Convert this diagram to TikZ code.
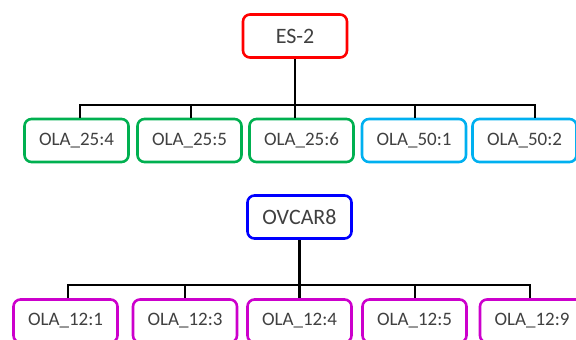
\documentclass[tikz,border=0pt]{standalone}
\usepackage{fontspec}
\setmainfont{Carlito}
\definecolor{cred}{RGB}{255,0,0}
\definecolor{cgreen}{RGB}{0,176,80}
\definecolor{ccyan}{RGB}{0,176,240}
\definecolor{cblue}{RGB}{0,0,255}
\definecolor{cmag}{RGB}{204,0,204}
\definecolor{txt}{RGB}{64,64,64}
\begin{document}
\begin{tikzpicture}[x=1pt,y=-1pt,
  box/.style={draw, line width=2.6pt, rounded corners=7pt, minimum width=104pt,
    minimum height=43pt, fill=white, text=txt, inner sep=0pt,
    font=\fontsize{19}{21}\selectfont},
  rootbox/.style={box, font=\fontsize{22}{24}\selectfont},
  link/.style={line width=2.8pt, black, line join=miter}]
\useasboundingbox (0,0) rectangle (576,340);
\clip (0,0) rectangle (576,340);
% top tree
\node[rootbox, draw=cred] (es2) at (295,36) {ES-2};
\node[box, draw=cgreen] (a1) at (76.5,140.5) {OLA\_25:4};
\node[box, draw=cgreen] (a2) at (189.5,140.5) {OLA\_25:5};
\node[box, draw=cgreen] (a3) at (301.5,140.5) {OLA\_25:6};
\node[box, draw=ccyan] (a4) at (414,140.5) {OLA\_50:1};
\node[box, draw=ccyan] (a5) at (524.5,140.5) {OLA\_50:2};
\coordinate (t1) at (80,105);
\coordinate (t2) at (191,105);
\coordinate (t4) at (415,105);
\coordinate (t5) at (535,105);
\draw[link] (t1 |- a1.north) -- (t1) -- (t5) -- (t5 |- a5.north);
\draw[link] (t2) -- (t2 |- a2.north);
\draw[link] (t4) -- (t4 |- a4.north);
\draw[link] (es2.south) -- (es2.south |- a3.north);
% bottom tree
\node[rootbox, draw=cblue] (ov) at (299.5,217) {OVCAR8};
\node[box, draw=cmag] (b1) at (65.5,321) {OLA\_12:1};
\node[box, draw=cmag] (b2) at (185,321) {OLA\_12:3};
\node[box, draw=cmag] (b3) at (299.5,321) {OLA\_12:4};
\node[box, draw=cmag] (b4) at (414.5,321) {OLA\_12:5};
\node[box, draw=cmag] (b5) at (532,321) {OLA\_12:9};
\coordinate (s1) at (68,285);
\coordinate (s2) at (185,285);
\coordinate (s4) at (415,285);
\coordinate (s5) at (530,285);
\draw[link] (s1 |- b1.north) -- (s1) -- (s5) -- (s5 |- b5.north);
\draw[link] (s2) -- (s2 |- b2.north);
\draw[link] (s4) -- (s4 |- b4.north);
\draw[link] (ov.south) -- (ov.south |- b3.north);
\end{tikzpicture}
\end{document}
